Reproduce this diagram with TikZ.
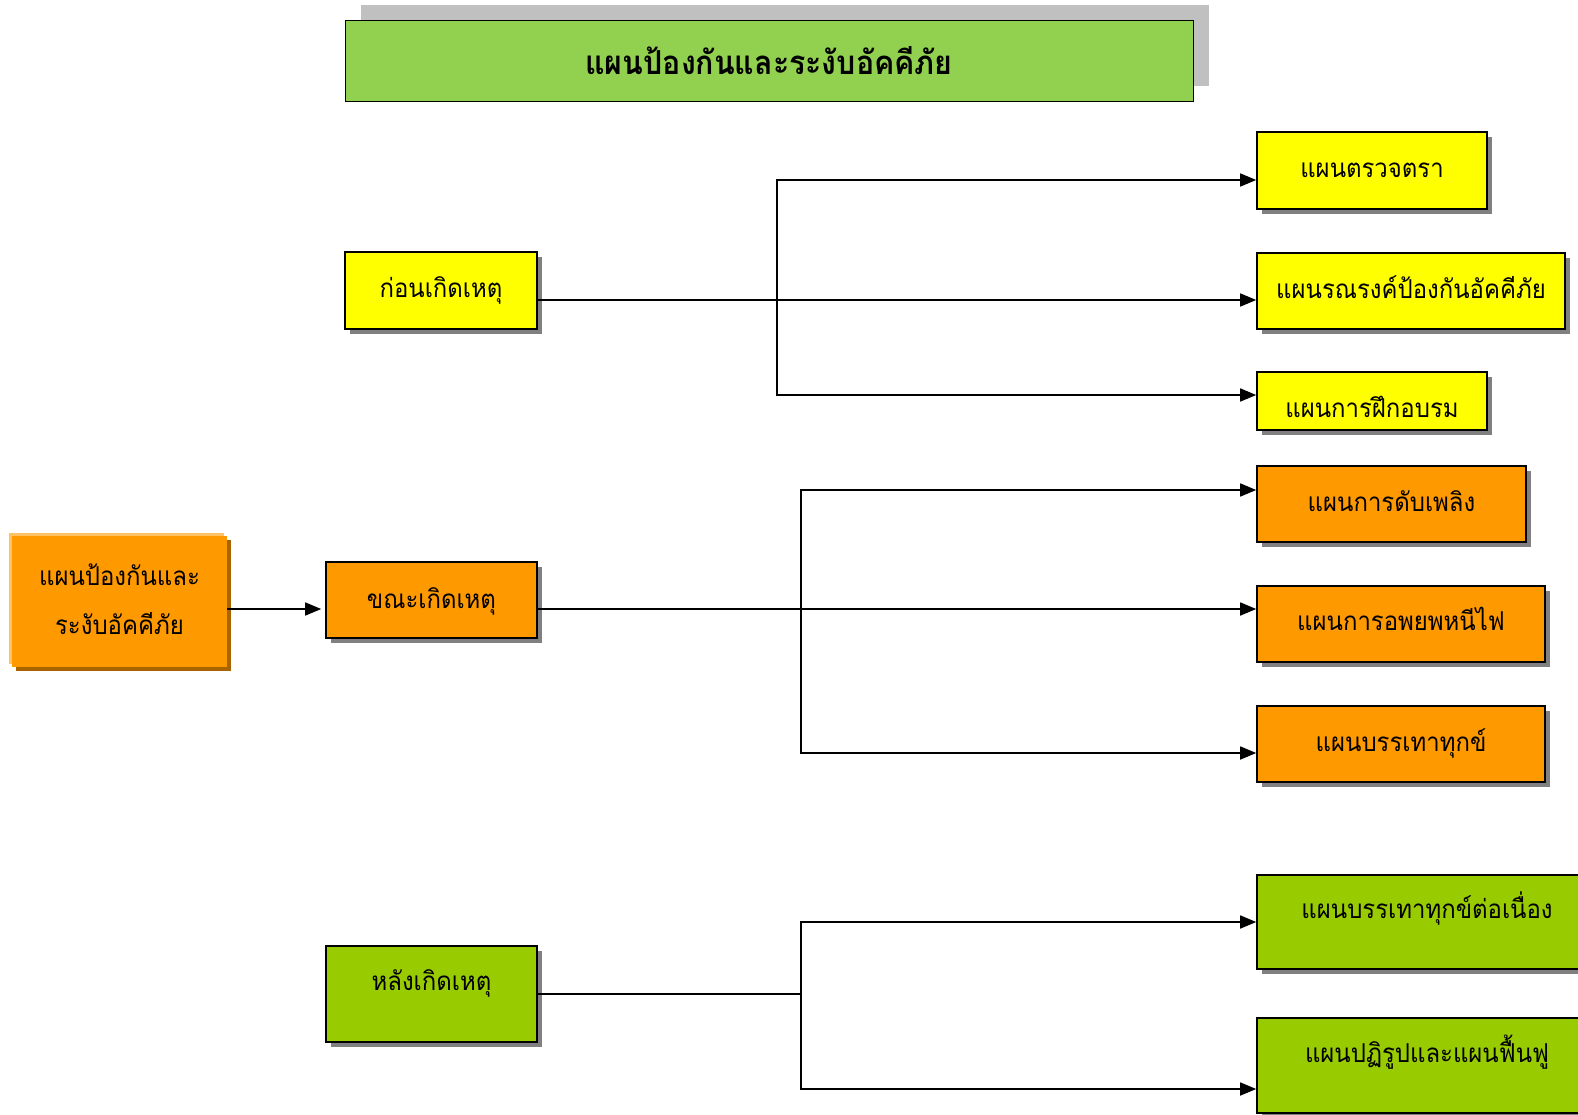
\documentclass[tikz,border=0pt]{standalone}
\usepackage{fontspec}
\usepackage{tikz}
\usetikzlibrary{arrows.meta,shadows}
\newfontfamily\thaifont[Script=Thai, FakeStretch=0.92]{Loma}
\definecolor{planyellow}{HTML}{FFFF00}
\definecolor{planorange}{HTML}{FF9900}
\definecolor{plangreen}{HTML}{99CC00}
\definecolor{titlegreenc}{HTML}{92D050}
\definecolor{shadowgray}{HTML}{808080}
\definecolor{titleshadow}{HTML}{C0C0C0}
\definecolor{rootedge}{HTML}{FFC266}
\definecolor{rootshadow}{HTML}{A86400}
\colorlet{titlegreen}{titlegreenc}
\tikzstyle{planbox} = [
    draw=black,
    line width=1.6pt,
    rectangle,
    inner sep=0pt,
    font=\thaifont\fontsize{26}{30}\selectfont,
    drop shadow={shadow xshift=5pt, shadow yshift=-5pt, fill=shadowgray, opacity=1}
    ]
\tikzstyle{titlebox} = [
    draw=black,
    line width=1pt,
    fill=titlegreen,
    rectangle,
    inner sep=0pt,
    font=\thaifont\bfseries\fontsize{33}{36}\selectfont,
    general shadow={shadow xshift=16pt, shadow yshift=16pt, fill=titleshadow}
    ]
\tikzstyle{rootbox} = [
    fill=planorange,
    rectangle,
    inner sep=0pt,
    align=center,
    font=\thaifont\fontsize{26}{49}\selectfont,
    general shadow={shadow xshift=-3pt, shadow yshift=3pt, fill=rootedge},
    general shadow={shadow xshift=4pt, shadow yshift=-4pt, fill=rootshadow}
    ]
\tikzstyle{link} = [line width=1.6pt]
\tikzstyle{tolink} = [link, -{Triangle[length=16pt,width=13pt]}]
\tikzset{
    sinktext/.style={text height=#1, text depth=0pt},
    lifttext/.style={text height=0pt, text depth=#1}
}

\begin{document}
\begin{tikzpicture}[x=1pt, y=-1pt]
\useasboundingbox (0,0) rectangle (1578,1115);

% title
\node [titlebox, sinktext=26pt, minimum width=848pt, minimum height=81pt] (title) at (769,61.5) {แผนป้องกันและระงับอัคคีภัย};

% root and the three stages
\node [rootbox, minimum width=215pt, minimum height=131pt] (root) at (119.5,601.5) {\raisebox{5pt}{แผนป้องกันและ}\\\raisebox{5pt}{ระงับอัคคีภัย}};
\node [planbox, fill=planyellow, sinktext=13pt, minimum width=192pt, minimum height=77pt] (before) at (441,290.5) {ก่อนเกิดเหตุ};
\node [planbox, fill=planorange, sinktext=16pt, minimum width=211pt, minimum height=76pt] (during) at (431.5,600) {ขณะเกิดเหตุ};
\node [planbox, fill=plangreen, lifttext=8pt, minimum width=211pt, minimum height=96pt] (after) at (431.5,994) {หลังเกิดเหตุ};

% plans before
\node [planbox, fill=planyellow, sinktext=15pt, minimum width=230pt, minimum height=77pt] (patrol) at (1372,170.5) {แผนตรวจตรา};
\node [planbox, fill=planyellow, sinktext=14pt, minimum width=308pt, minimum height=76pt] (campaign) at (1411,291) {แผนรณรงค์ป้องกันอัคคีภัย};
\node [planbox, fill=planyellow, sinktext=32pt, minimum width=230pt, minimum height=58pt] (training) at (1372,401) {แผนการฝึกอบรม};

% plans during
\node [planbox, fill=planorange, sinktext=14pt, minimum width=269pt, minimum height=76pt] (firefight) at (1391.5,504) {แผนการดับเพลิง};
\node [planbox, fill=planorange, sinktext=12pt, minimum width=288pt, minimum height=76pt] (evac) at (1401,624) {แผนการอพยพหนีไฟ};
\node [planbox, fill=planorange, sinktext=14pt, minimum width=288pt, minimum height=76pt] (relief) at (1401,744) {แผนบรรเทาทุกข์};

% plans after
\node [planbox, fill=plangreen, lifttext=8pt, minimum width=340pt, minimum height=94pt] (relieflong) at (1427,922) {แผนบรรเทาทุกข์ต่อเนื่อง};
\node [planbox, fill=plangreen, lifttext=7pt, minimum width=340pt, minimum height=95pt] (reform) at (1427,1065.5) {แผนปฏิรูปและแผนฟื้นฟู};

\coordinate (forkbefore) at (777,300);
\coordinate (forkduring) at (801,609);
\coordinate (forkafter) at (801,994);

\draw [tolink, shorten >=4pt] ([yshift=-9pt]during.west -| root.east) -- ([yshift=-9pt]during.west);

\draw [tolink] ([yshift=-9.5pt]before.east) -- ([yshift=-9pt]campaign.west);
\draw [tolink] (forkbefore) |- ([yshift=-9.5pt]patrol.west);
\draw [tolink] (forkbefore) |- ([yshift=6pt]training.west);

\draw [tolink] ([yshift=-9pt]during.east) -- ([yshift=15pt]evac.west);
\draw [tolink] (forkduring) |- ([yshift=14pt]firefight.west);
\draw [tolink] (forkduring) |- ([yshift=-9pt]relief.west);

\draw [link] (after.east) -- (forkafter);
\draw [tolink] (forkafter) |- (relieflong.west);
\draw [tolink] (forkafter) |- ([yshift=-23.5pt]reform.west);
\end{tikzpicture}
\end{document}
